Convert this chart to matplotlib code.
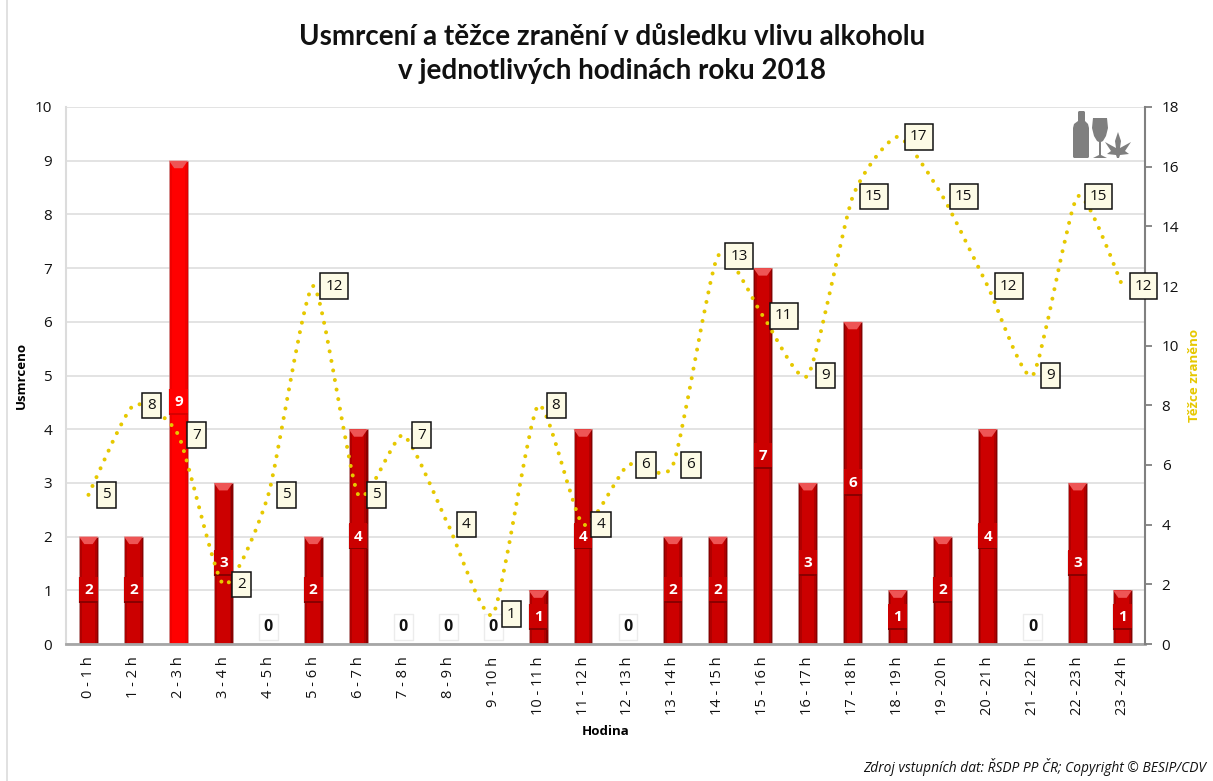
import numpy as np
import matplotlib
matplotlib.use("Agg")
import matplotlib.pyplot as plt
from matplotlib.path import Path
from matplotlib.patches import PathPatch, Polygon

W, H = 1213, 781
hours = [f"{i} - {i+1} h" for i in range(24)]
killed = [2, 2, 9, 3, 0, 2, 4, 0, 0, 0, 1, 4, 0, 2, 2, 7, 3, 6, 1, 2, 4, 0, 3, 1]
injured = [5, 8, 7, 2, 5, 12, 5, 7, 4, 1, 8, 4, 6, 6, 13, 11, 9, 15, 17, 15, 12, 9, 15, 12]
title_text = "Usmrcení a těžce zranění v důsledku vlivu alkoholu\nv jednotlivých hodinách roku 2018"
source_text = "Zdroj vstupních dat: ŘSDP PP ČR; Copyright © BESIP/CDV"

plt.rcParams['font.family'] = ['Open Sans', 'DejaVu Sans']
YEL = '#e6c800'
fig = plt.figure(figsize=(W/100, H/100), dpi=100, facecolor='white')
L, R, T, B = 66, 1145, 107, 644
ax = fig.add_axes([L/W, 1-B/H, (R-L)/W, (B-T)/H])
ax.set_xlim(-0.5, 23.5)
ax.set_ylim(0, 10)
ax.set_yticks(range(0, 11))
ax.set_xticks(range(24))
ax.set_xticklabels(hours, rotation=90, fontsize=10.5, color='#111111')
ax.tick_params(axis='y', length=0, labelsize=11, pad=10, colors='#111111')
ax.tick_params(axis='x', length=0, pad=9)
ax.grid(axis='y', color='#dedede', lw=1.2)
ax.set_axisbelow(True)
for s in ['top', 'right']:
    ax.spines[s].set_visible(False)
ax.spines['left'].set_color('#dcdcdc'); ax.spines['left'].set_linewidth(1.5)
ax.spines['bottom'].set_color('#a6a6a6'); ax.spines['bottom'].set_linewidth(2)

x = np.arange(24)
bw = 0.42
def col(v):
    return '#ff0000' if v == max(killed) else '#cc0000'
def mid(v):
    return '#f00000' if v == max(killed) else '#b00000'
def dark(v):
    return '#e00000' if v == max(killed) else '#8a0000'
for xi, v in zip(x, killed):
    if v == 0:
        continue
    ax.bar(xi, v, width=bw, color=dark(v), edgecolor='#c09a9a', lw=0.4, zorder=2)
    ax.bar(xi, v, width=bw*0.86, color=mid(v), zorder=2.05, lw=0)
    ax.bar(xi, v, width=bw*0.66, color=col(v), zorder=2.1, lw=0)
    ax.fill([xi-bw/2, xi+bw/2, xi+bw*0.22, xi-bw*0.22], [v, v, v-0.14, v-0.14], color='#ee5555', zorder=2.2, lw=0)
    ax.bar(xi, 0.48, bottom=v/2-0.24, width=bw*1.08, color='#888888', alpha=0.15, zorder=2.3, lw=0)
    ax.bar(xi, 0.46, bottom=v/2-0.21, width=bw*0.98, color=col(v), zorder=2.4, lw=0)
    ax.bar(xi, 0.03, bottom=v/2-0.235, width=bw*0.98, color='#8a0000' if v != max(killed) else '#d80000', zorder=2.45, lw=0)
    ax.text(xi, v/2, str(v), ha='center', va='center', color='white', fontsize=11,
            fontweight='bold', zorder=2.6)

for xi, v in zip(x, killed):
    if v == 0:
        ax.annotate(str(v), (xi, v), xytext=(0, 17), textcoords='offset pixels', ha='center', va='center',
                    fontsize=11.5, fontweight='bold', color='#111111', zorder=2.6,
                    bbox=dict(boxstyle='square,pad=0.3', fc='white', ec='#ececec', lw=1.0))

ax.set_xlabel("Hodina", fontsize=9.5, fontweight='bold', labelpad=0)
ax.xaxis.set_label_coords((606-L)/(R-L), -(725-B)/(B-T), transform=ax.transAxes)
ax.set_ylabel("Usmrceno", fontsize=9.5, fontweight='bold')
ax.yaxis.set_label_coords((28-L)/(R-L), (B-375)/(B-T), transform=ax.transAxes)

ax2 = ax.twinx()
ax2.set_xlim(-0.5, 23.5)
ax2.set_ylim(0, 18)
ax2.set_yticks(range(0, 19, 2))
ax2.tick_params(axis='y', length=5, width=1.3, color='#808080', labelsize=11, pad=7, labelcolor='#111111')
for s in ['top', 'left', 'bottom']:
    ax2.spines[s].set_visible(False)
ax2.spines['right'].set_color('#808080'); ax2.spines['right'].set_linewidth(1.5)
ax2.set_ylabel("Těžce zraněno", fontsize=9.5, fontweight='bold', color=YEL)
ax2.yaxis.set_label_coords((1188-L)/(R-L), (B-375)/(B-T), transform=ax2.transAxes)

px = x.astype(float); py = np.array(injured, float)
verts = [(px[0], py[0])]; codes = [Path.MOVETO]
k = 10.0
for i in range(len(px)-1):
    p0 = (px[max(i-1, 0)], py[max(i-1, 0)])
    p1 = (px[i], py[i]); p2 = (px[i+1], py[i+1])
    p3 = (px[min(i+2, 23)], py[min(i+2, 23)])
    c1 = (p1[0]+(p2[0]-p0[0])/k, p1[1]+(p2[1]-p0[1])/k)
    c2 = (p2[0]-(p3[0]-p1[0])/k, p2[1]-(p3[1]-p1[1])/k)
    verts += [c1, c2, p2]; codes += [Path.CURVE4]*3
ax2.add_patch(PathPatch(Path(verts, codes), fill=False, ec=YEL, lw=2.9,
                        ls=(0, (0.01, 2.4)), capstyle='round', zorder=3))

for xi, v in zip(x, injured):
    off = 21 if v >= 10 else 18
    ax2.annotate(str(v), (xi, v), xytext=(off, 0), textcoords='offset pixels', ha='center', va='center',
                 fontsize=11, color='#111111', zorder=5,
                 bbox=dict(boxstyle='square,pad=0.34', fc='#fdfbe6', ec='#111111', lw=1.1))

fig.text(612/W, 1-54/H, title_text, ha='center', va='center', fontsize=20, fontweight='bold',
         family=['Lato', 'DejaVu Sans'], color='#111111', linespacing=1.42)
fig.text(1206/W, 1-767/H, source_text, ha='right', va='center', fontsize=9.9, style='italic', color='#111111')

fig.add_artist(plt.Line2D([7/W, 7/W], [0, 1], color='#dcdcdc', lw=1.2))

ICON = '#7f7f7f'
def P(pts):
    return [(a/W, 1-b/H) for a, b in pts]
bottle = [(1078, 112), (1079, 111), (1084, 111), (1085, 112), (1085, 121), (1088, 124), (1089, 128),
          (1089, 157), (1088, 158), (1074, 158), (1073, 157), (1073, 128), (1074, 124), (1078, 121)]
bowl = [(1093, 118), (1107, 118), (1108, 128), (1106, 136), (1103, 141), (1101, 142), (1101, 155), (1107, 158),
        (1093, 158), (1099, 155), (1099, 142), (1097, 141), (1094, 136), (1092, 128)]
leaf = [(1118, 132), (1121, 141), (1120, 148), (1131, 142), (1125, 151), (1129, 154), (1120, 155), (1119, 158),
        (1117, 158), (1116, 155), (1107, 154), (1111, 151), (1105, 142), (1116, 148), (1115, 141)]
for pts in (bottle, bowl, leaf):
    fig.add_artist(Polygon(P(pts), closed=True, transform=fig.transFigure, fc=ICON, ec='none'))

fig.savefig('out.png', dpi=100)
